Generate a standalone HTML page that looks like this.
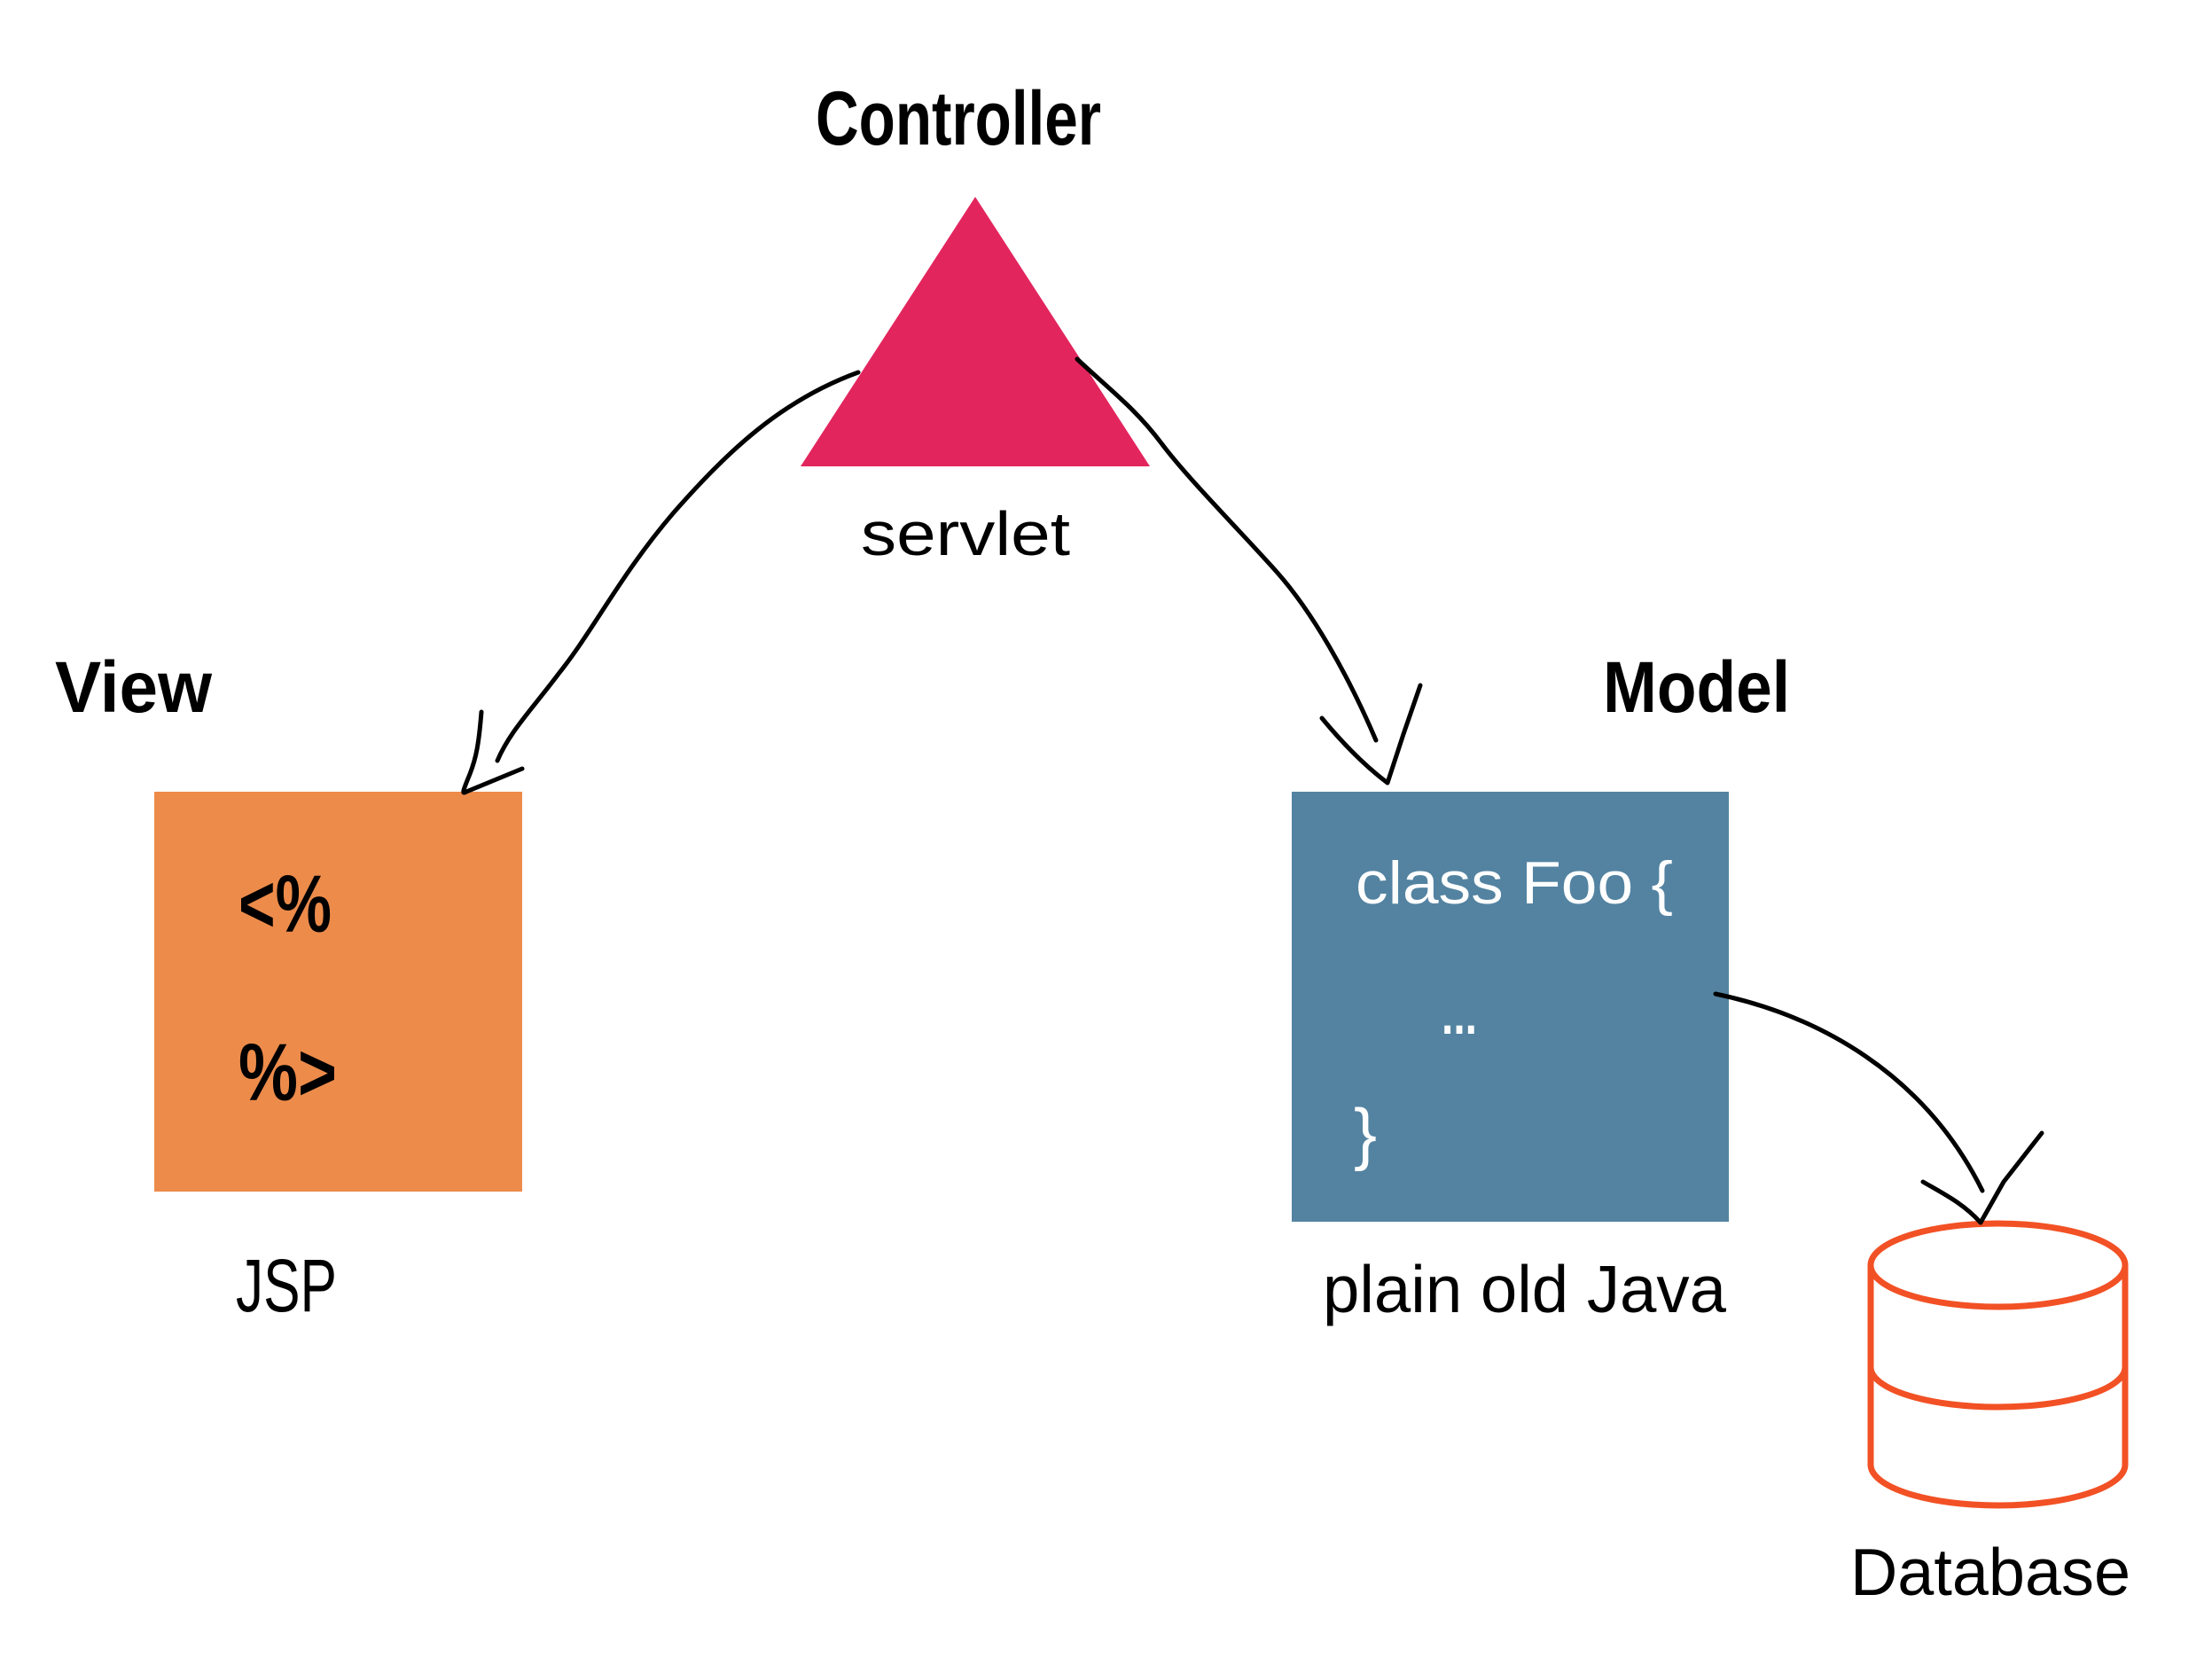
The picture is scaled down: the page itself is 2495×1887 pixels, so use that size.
<!DOCTYPE html>
<html>
<head>
<meta charset="utf-8">
<style>
  html, body { margin: 0; padding: 0; background: #ffffff; }
  body { width: 2495px; height: 1887px; overflow: hidden; }
  svg { display: block; }
  .h { font-family: "Liberation Sans", sans-serif; font-weight: bold; fill: #000; }
  .hand { font-family: "Liberation Sans", sans-serif; fill: #000; }
</style>
</head>
<body>
<svg width="2495" height="1887" viewBox="0 0 2495 1887" xmlns="http://www.w3.org/2000/svg">
  <rect x="0" y="0" width="2495" height="1887" fill="#ffffff"/>

  <!-- Titles -->
  <text class="h" x="920" y="163" font-size="86" textLength="322" lengthAdjust="spacingAndGlyphs">Controller</text>
  <text class="h" x="62" y="803" font-size="82" textLength="177" lengthAdjust="spacingAndGlyphs">View</text>
  <text class="h" x="1808" y="803" font-size="82" textLength="211" lengthAdjust="spacingAndGlyphs">Model</text>

  <!-- Controller triangle -->
  <polygon points="1100,222 1297,526 903,526" fill="#E3255E"/>
  <text class="hand" x="971" y="626" font-size="70" textLength="236" lengthAdjust="spacingAndGlyphs">servlet</text>

  <!-- View box -->
  <rect x="174" y="893" width="415" height="451" fill="#ED8B4B"/>
  <text class="hand" x="269" y="1051" font-size="92" font-weight="bold" textLength="105" lengthAdjust="spacingAndGlyphs">&lt;%</text>
  <text class="hand" x="269" y="1241" font-size="92" font-weight="bold" textLength="111" lengthAdjust="spacingAndGlyphs">%&gt;</text>
  <text class="hand" x="266" y="1479" font-size="84" textLength="114" lengthAdjust="spacingAndGlyphs">JSP</text>

  <!-- Model box -->
  <rect x="1457" y="893" width="493" height="485" fill="#5383A1"/>
  <text x="1529" y="1019" font-family="Liberation Sans, sans-serif" font-size="68" fill="#ffffff" textLength="358" lengthAdjust="spacingAndGlyphs">class Foo {</text>
  <text x="1626" y="1166" font-family="Liberation Sans, sans-serif" font-size="62" font-weight="bold" fill="#ffffff" textLength="40" lengthAdjust="spacingAndGlyphs">...</text>
  <text x="1527" y="1305" font-family="Liberation Sans, sans-serif" font-size="78" fill="#ffffff" textLength="26" lengthAdjust="spacingAndGlyphs">}</text>
  <text class="hand" x="1492" y="1480" font-size="75" textLength="455" lengthAdjust="spacingAndGlyphs">plain old Java</text>

  <!-- Database cylinder -->
  <g fill="none" stroke="#F25125" stroke-width="7" stroke-linecap="round">
    <ellipse cx="2253.5" cy="1427" rx="143.5" ry="47"/>
    <path d="M2110,1427 L2110,1652 A143.5,46 0 0 0 2397,1652 L2397,1427"/>
    <path d="M2110,1542 A143.5,45 0 0 0 2397,1542"/>
  </g>
  <text class="hand" x="2087" y="1799" font-size="75" textLength="316" lengthAdjust="spacingAndGlyphs">Database</text>

  <!-- Connectors -->
  <g fill="none" stroke="#000" stroke-width="5" stroke-linecap="round" stroke-linejoin="round">
    <!-- Controller -> View -->
    <path d="M968,420 C880,452 820,510 760,578 C700,648 670,710 630,760 C600,800 575,825 561,858"/>
    <path d="M543,803 C540,840 537,855 530,873 C523,890 520,897 526,893 L589,867"/>
    <!-- Controller -> Model -->
    <path d="M1215,405 C1250,438 1280,460 1310,500 C1340,540 1400,600 1440,645 C1480,690 1520,760 1552,835"/>
    <path d="M1491,810 C1520,845 1545,868 1565,883 L1583,828 L1602,773"/>
    <!-- Model -> Database -->
    <path d="M1935,1121 C2050,1145 2170,1210 2236,1343"/>
    <path d="M2169,1333 C2195,1348 2215,1358 2234,1379 L2260,1333 L2303,1278"/>
  </g>
</svg>
</body>
</html>
